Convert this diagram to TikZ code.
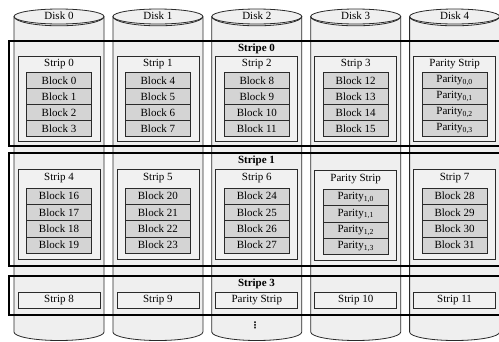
\documentclass[tikz,border=0pt]{standalone}
\usepackage{fontspec}
\setmainfont{Liberation Serif}
\newfontfamily\symfont{DejaVu Sans}
\definecolor{cylfill}{HTML}{EFEFEF}
\definecolor{stripfill}{HTML}{F1F1F1}
\definecolor{blockfill}{HTML}{D4D4D4}
\definecolor{linec}{HTML}{2A2A2A}
\tikzset{
  cylline/.style={draw=linec, line width=0.8bp},
  stripbox/.style={draw=linec, line width=0.8bp, fill=stripfill, minimum width=82bp, inner sep=0pt},
  blockbox/.style={draw=linec, line width=0.8bp, fill=blockfill, minimum width=65bp, minimum height=16bp, inner sep=0pt},
  stripeframe/.style={draw=black, line width=2.2bp, inner sep=0pt, anchor=north west, minimum width=500bp},
  lbl/.style={inner sep=0pt},
  stripelbl/.style={inner sep=0pt, font=\fontsize{11bp}{13bp}\selectfont\bfseries}
}
\begin{document}
\begin{tikzpicture}[x=1bp, y=-1bp, font=\fontsize{11bp}{13bp}\selectfont]
\useasboundingbox (0,0) rectangle (499,341);

% disks drawn as cylinders
\foreach \i in {0,...,4} {
  \pgfmathsetmacro\cx{59+98.9*\i}
  \fill[cylfill] (\cx-45,16.5) -- (\cx-45,332)
      arc[start angle=180, end angle=0, x radius=45, y radius=8.5] -- (\cx+45,16.5) -- cycle;
  \draw[cylline] (\cx-45,16.5) -- (\cx-45,332)
      arc[start angle=180, end angle=0, x radius=45, y radius=8.5] -- (\cx+45,16.5);
  \draw[cylline, fill=cylfill] (\cx,16.5) ellipse[x radius=45, y radius=7.5];
  \draw[cylline] (\cx-45,16.5) arc[start angle=180, end angle=0, x radius=45, y radius=9.3];
  \node[lbl] (disk\i) at (\cx,15.5) {Disk \i};
}

% stripe frames
\node[stripeframe, minimum height=105bp] (stripe0) at (8,40) {};
\node[stripeframe, minimum height=113bp] (stripe1) at (8,152) {};
\node[stripeframe, minimum height=38.5bp] (stripe3) at (8,275) {};
\node[stripelbl] (stl0) at (256.5,48.5) {Stripe 0};
\node[stripelbl] (stl1) at (256.5,161) {Stripe 1};
\node[stripelbl] (stl3) at (256.5,283.5) {Stripe 3};

% stripe 0 contents
\foreach \i/\t in {0/Strip 0, 1/Strip 1, 2/Strip 2, 3/Strip 3, 4/Parity Strip} {
  \pgfmathsetmacro\cx{59+98.9*\i}
  \node[stripbox, minimum height=85bp] (sa\i) at (\cx,98.5) {};
  \node[lbl] (ta\i) at (\cx,64) {\t};
}
\foreach \i in {0,...,3} {
  \pgfmathsetmacro\cx{59+98.9*\i}
  \foreach \k in {0,...,3} {
    \pgfmathtruncatemacro\n{4*\i+\k}
    \node[blockbox] (ba\i\k) at (\cx,80.5+16*\k) {Block \n};
  }
}
\foreach \k in {0,...,3} {
  \node[blockbox] (ba4\k) at (454.6,80.5+16*\k) {Parity\textsubscript{0,\k}};
}

% stripe 1 contents
\foreach \i/\t in {0/Strip 4, 1/Strip 5, 2/Strip 6, 4/Strip 7} {
  \pgfmathsetmacro\cx{59+98.9*\i}
  \node[stripbox, minimum height=90bp] (sb\i) at (\cx,214) {};
  \node[lbl] (tb\i) at (\cx,178) {\t};
}
\node[stripbox, minimum height=90bp] (sb3) at (355.7,215.5) {};
\node[lbl] (tb3) at (355.7,179.5) {Parity Strip};
\foreach \i/\s in {0/16, 1/20, 2/24, 4/28} {
  \pgfmathsetmacro\cx{59+98.9*\i}
  \foreach \k in {0,...,3} {
    \pgfmathtruncatemacro\n{\s+\k}
    \node[blockbox, minimum height=16.3bp] (bb\i\k) at (\cx,196.2+16.3*\k) {Block \n};
  }
}
\foreach \k in {0,...,3} {
  \node[blockbox, minimum height=16.3bp] (bb3\k) at (355.7,197.7+16.3*\k) {Parity\textsubscript{1,\k}};
}

% stripe 3 contents
\foreach \i/\t in {0/Strip 8, 1/Strip 9, 2/Parity Strip, 3/Strip 10, 4/Strip 11} {
  \pgfmathsetmacro\cx{59+98.9*\i}
  \node[stripbox, minimum height=16bp] (sc\i) at (\cx,300) {\t};
}

% more stripes follow
\node[lbl, font=\fontsize{9bp}{9bp}\selectfont\symfont\bfseries] (more) at (255,325) {⋮};
\end{tikzpicture}
\end{document}
